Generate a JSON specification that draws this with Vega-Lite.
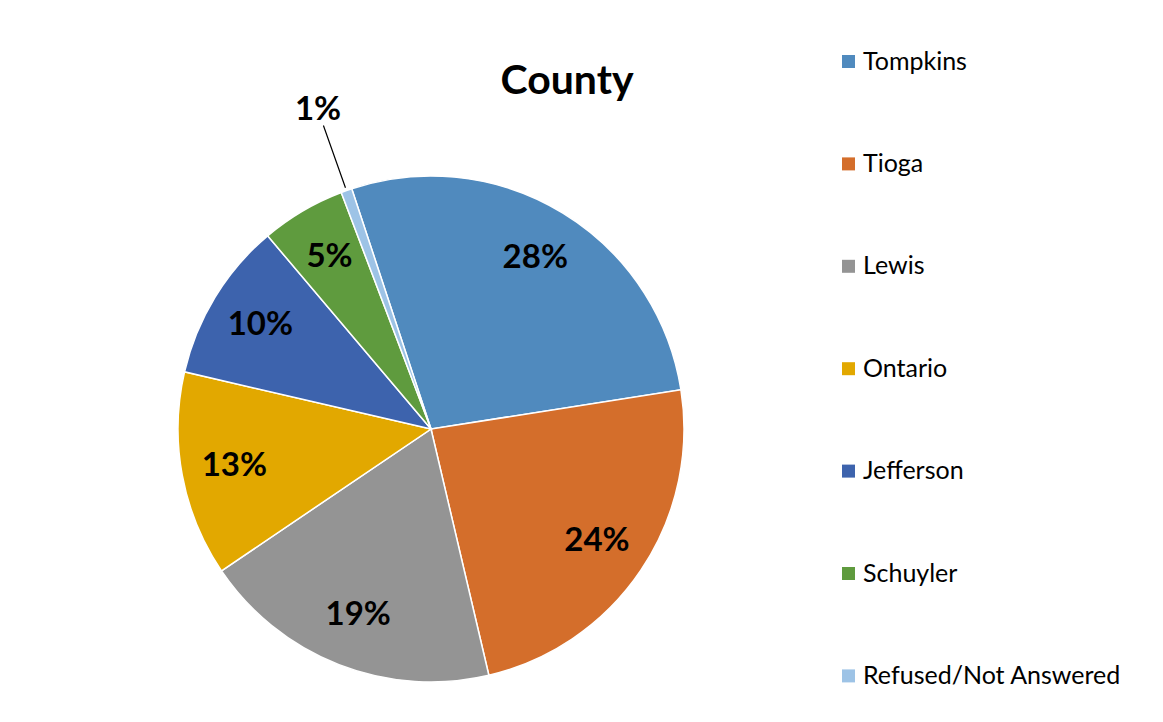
{
  "$schema": "https://vega.github.io/schema/vega-lite/v6.json",
  "width": 506,
  "height": 506,
  "autosize": {"type": "none"},
  "padding": {"left": 178, "top": 176, "right": 479, "bottom": 40},
  "background": "white",
  "config": {"view": {"stroke": null}},
  "title": {
    "text": "County",
    "font": "Lato",
    "fontSize": 41,
    "fontWeight": "bold",
    "color": "#000000",
    "anchor": "middle",
    "dx": 136,
    "offset": -54
  },
  "data": {
    "values": [
      {"county": "Tompkins", "pct": 0.276, "rank": 1},
      {"county": "Tioga", "pct": 0.238, "rank": 2},
      {"county": "Lewis", "pct": 0.192, "rank": 3},
      {"county": "Ontario", "pct": 0.131, "rank": 4},
      {"county": "Jefferson", "pct": 0.102, "rank": 5},
      {"county": "Schuyler", "pct": 0.054, "rank": 6},
      {"county": "Refused/Not Answered", "pct": 0.007, "rank": 7}
    ]
  },
  "layer": [
    {
      "mark": {"type": "arc", "stroke": "white", "strokeWidth": 1.5},
      "encoding": {
        "theta": {"field": "pct", "type": "quantitative", "stack": true,
          "scale": {"domain": [0, 1], "range": [-0.3187, 5.9645]}},
        "order": {"field": "rank", "type": "quantitative"},
        "color": {
          "field": "county", "type": "nominal",
          "scale": {
            "domain": ["Tompkins", "Tioga", "Lewis", "Ontario", "Jefferson", "Schuyler", "Refused/Not Answered"],
            "range": ["#508abe", "#d46e2b", "#949494", "#e2a800", "#3d63ad", "#5f9b3e", "#9dc3e6"]
          },
          "legend": {
            "title": null,
            "orient": "none",
            "legendX": 658,
            "legendY": -127,
            "padding": 0,
            "symbolType": "square",
            "symbolSize": 169,
            "symbolStrokeWidth": 0,
            "labelFont": "Lato",
            "labelFontSize": 25,
            "labelColor": "#000000",
            "labelOffset": 2,
            "rowPadding": 76.4,
            "labelLimit": 400
          }
        }
      }
    },
    {
      "mark": {"type": "text", "radius": 200, "font": "Lato", "fontSize": 33, "fontWeight": "bold", "fill": "#000000", "align": "center", "baseline": "middle"},
      "encoding": {
        "theta": {"field": "pct", "type": "quantitative", "stack": true,
          "scale": {"domain": [0, 1], "range": [-0.3187, 5.9645]}},
        "order": {"field": "rank", "type": "quantitative"},
        "detail": {"field": "county", "type": "nominal"},
        "text": {
          "condition": {"test": "datum.county === 'Refused/Not Answered'", "value": ""},
          "field": "pct", "type": "quantitative", "format": ".0%"
        }
      }
    },
    {
      "mark": {"type": "text", "radius": 338, "font": "Lato", "fontSize": 33, "fontWeight": "bold", "fill": "#000000", "align": "center", "baseline": "middle"},
      "encoding": {
        "theta": {"field": "pct", "type": "quantitative", "stack": true,
          "scale": {"domain": [0, 1], "range": [-0.3187, 5.9645]}},
        "order": {"field": "rank", "type": "quantitative"},
        "detail": {"field": "county", "type": "nominal"},
        "text": {
          "condition": {"test": "datum.county !== 'Refused/Not Answered'", "value": ""},
          "field": "pct", "type": "quantitative", "format": ".0%"
        }
      }
    },
    {
      "transform": [
        {"stack": "pct", "groupby": [], "sort": [{"field": "rank", "order": "ascending"}], "as": ["s0", "s1"]},
        {"filter": "datum.county === 'Refused/Not Answered'"}
      ],
      "mark": {"type": "arc", "innerRadius": 256, "outerRadius": 322, "stroke": "#000000", "strokeWidth": 1.2, "fill": null, "thetaOffset": 0.022, "theta2Offset": 0.022},
      "encoding": {
        "theta": {"field": "s0", "type": "quantitative",
          "scale": {"domain": [0, 1], "range": [-0.3187, 5.9645]}},
        "theta2": {"field": "s0"}
      }
    }
  ]
}
